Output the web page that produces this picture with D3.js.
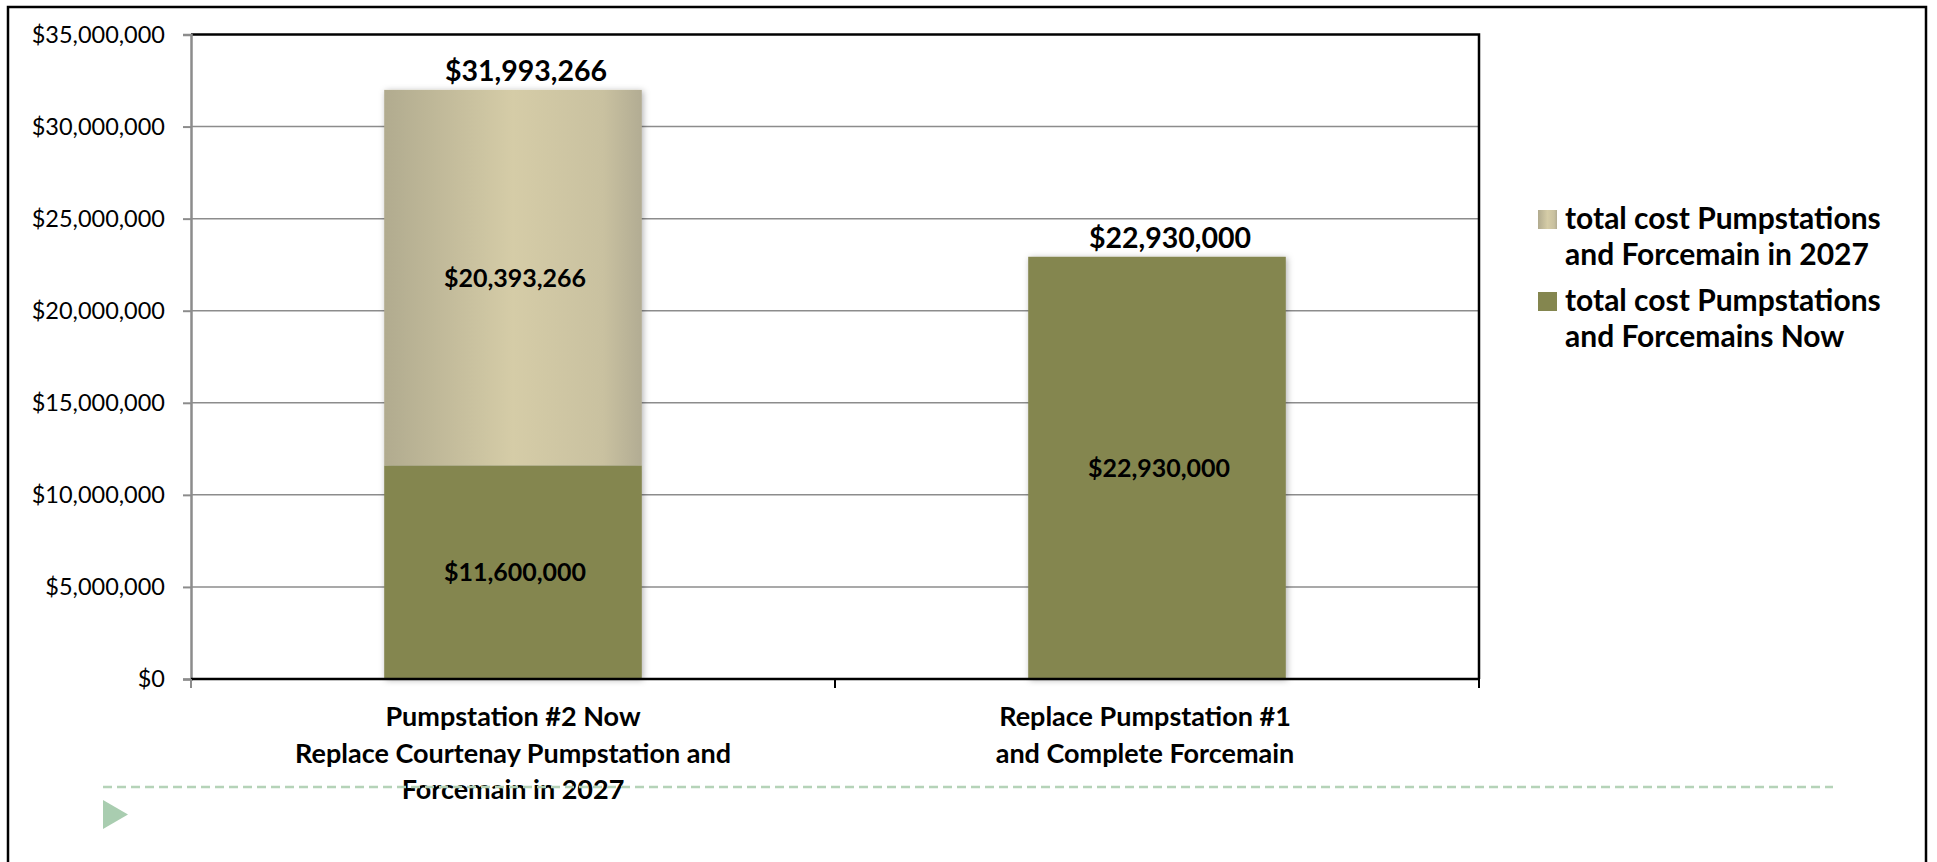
<!DOCTYPE html>
<html>
<head>
<meta charset="utf-8">
<script src="https://cdn.jsdelivr.net/npm/d3@7"></script>
<style>
  html, body { margin: 0; padding: 0; background: #ffffff; }
  svg { display: block; }
  text { font-family: Lato, "Open Sans", sans-serif; }
</style>
</head>
<body>
<svg id="chart" width="1937" height="862"></svg>
<script>
// ---- data ----
const categories = ["cat1", "cat2"];
const categoryLines = [
  ["Pumpstation #2 Now", "Replace Courtenay Pumpstation and", "Forcemain in 2027"],
  ["Replace Pumpstation #1", "and Complete Forcemain"]
];
const seriesNames = [
  ["total cost Pumpstations", "and Forcemain in 2027"],
  ["total cost Pumpstations", "and Forcemains Now"]
];
const nowValues = [11600000, 22930000];
const laterValues = [20393266, 0];
const yTickValues = [0, 5000000, 10000000, 15000000, 20000000, 25000000, 30000000, 35000000];

// ---- layout ----
const plot = { left: 191, right: 1479, top: 34.5, bottom: 679 };
const svg = d3.select("#chart");
const fmt = v => "$" + d3.format(",")(v);

const defs = svg.append("defs");
const grad = defs.append("linearGradient").attr("id", "tanGrad")
  .attr("x1", "0%").attr("x2", "100%").attr("y1", "0%").attr("y2", "0%");
grad.append("stop").attr("offset", "0%").attr("stop-color", "#b1ab8f");
grad.append("stop").attr("offset", "50%").attr("stop-color", "#d5cca7");
grad.append("stop").attr("offset", "85%").attr("stop-color", "#c9c1a0");
grad.append("stop").attr("offset", "100%").attr("stop-color", "#b2ac93");
const f = defs.append("filter").attr("id", "shadow")
  .attr("x", "-10%").attr("y", "-10%").attr("width", "120%").attr("height", "120%");
f.append("feDropShadow").attr("dx", 1.5).attr("dy", 1).attr("stdDeviation", 3)
  .attr("flood-color", "#000").attr("flood-opacity", 0.3);

// outer frame
svg.append("rect").attr("x", 8).attr("y", 7).attr("width", 1918).attr("height", 880)
  .attr("fill", "none").attr("stroke", "#000").attr("stroke-width", 2.5);

const x = d3.scaleBand().domain(categories).range([plot.left, plot.right])
  .paddingInner(0.6).paddingOuter(0.3);
const xCat = d3.scaleBand().domain(categories).range([plot.left, plot.right]);
const y = d3.scaleLinear().domain([0, 35000000]).range([plot.bottom, plot.top]);

// gridlines
svg.append("g").selectAll("line").data(yTickValues.filter(v => v > 0 && v < 35000000)).join("line")
  .attr("x1", plot.left).attr("x2", plot.right)
  .attr("y1", d => y(d)).attr("y2", d => y(d))
  .attr("stroke", "#8c8c8c").attr("stroke-width", 1.5);

// plot border (top + right)
svg.append("path")
  .attr("d", `M${plot.left},${plot.top}H${plot.right}V${plot.bottom}`)
  .attr("fill", "none").attr("stroke", "#000").attr("stroke-width", 2.5);

// bars
const bars = svg.append("g").attr("filter", "url(#shadow)");
categories.forEach((c, i) => {
  bars.append("rect").attr("x", x(c)).attr("width", x.bandwidth())
    .attr("y", y(nowValues[i])).attr("height", y(0) - y(nowValues[i]))
    .attr("fill", "#84864f");
  if (laterValues[i] > 0) {
    bars.append("rect").attr("x", x(c)).attr("width", x.bandwidth())
      .attr("y", y(nowValues[i] + laterValues[i]))
      .attr("height", y(nowValues[i]) - y(nowValues[i] + laterValues[i]))
      .attr("fill", "url(#tanGrad)");
  }
});

// y axis
const yAxis = svg.append("g").attr("transform", `translate(${plot.left},0)`)
  .call(d3.axisLeft(y).tickValues(yTickValues).tickFormat(fmt).tickSize(8).tickPadding(18));
yAxis.select(".domain").attr("stroke", "#8c8c8c").attr("stroke-width", 2.5);
yAxis.selectAll(".tick line").attr("stroke", "#8c8c8c").attr("stroke-width", 2);
yAxis.selectAll(".tick text").attr("font-size", 23.5).attr("fill", "#000")
  .attr("font-family", "Lato, sans-serif");

// x axis
const xAxisG = svg.append("g");
xAxisG.append("line").attr("x1", plot.left).attr("x2", plot.right + 1)
  .attr("y1", plot.bottom).attr("y2", plot.bottom).attr("stroke", "#000").attr("stroke-width", 2.5);
const tickXs = [plot.left].concat(categories.map(c => xCat(c) + xCat.bandwidth()));
xAxisG.selectAll("line.tk").data(tickXs).join("line").attr("class", "tk")
  .attr("x1", d => d).attr("x2", d => d).attr("y1", plot.bottom).attr("y2", plot.bottom + 9)
  .attr("stroke", (d, i) => i === 0 ? "#8c8c8c" : "#000").attr("stroke-width", 2);

// category labels
const catBase = [726, 762.5, 799];
categories.forEach((c, i) => {
  const t = svg.append("text").attr("text-anchor", "middle")
    .attr("font-weight", "bold").attr("font-size", 27).attr("fill", "#000");
  categoryLines[i].forEach((line, j) => {
    t.append("tspan").attr("x", xCat(c) + xCat.bandwidth() / 2 - (i === 1 ? 12 : 0))
      .attr("y", catBase[j]).text(line);
  });
});

// value labels
const totalLabelDx = 13;
categories.forEach((c, i) => {
  const cx = x(c) + x.bandwidth() / 2;
  const total = nowValues[i] + laterValues[i];
  svg.append("text").attr("x", cx + totalLabelDx).attr("y", y(total) - 9)
    .attr("text-anchor", "middle").attr("font-weight", "bold").attr("font-size", 28.5)
    .attr("fill", "#000").text(fmt(total));
  svg.append("text").attr("x", cx + 2).attr("y", (y(0) + y(nowValues[i])) / 2)
    .attr("dy", "0.36em")
    .attr("text-anchor", "middle").attr("font-weight", "bold").attr("font-size", 25)
    .attr("fill", "#000").text(fmt(nowValues[i]));
  if (laterValues[i] > 0) {
    svg.append("text").attr("x", cx + 2)
      .attr("y", (y(nowValues[i]) + y(total)) / 2).attr("dy", "0.36em")
      .attr("text-anchor", "middle").attr("font-weight", "bold").attr("font-size", 25)
      .attr("fill", "#000").text(fmt(laterValues[i]));
  }
});

// legend
const legendItems = [
  { lines: seriesNames[0], fill: "url(#tanGrad)", base: 229 },
  { lines: seriesNames[1], fill: "#84864f", base: 311 }
];
legendItems.forEach(it => {
  svg.append("rect").attr("x", 1538).attr("y", it.base - 19).attr("width", 19).attr("height", 19)
    .attr("fill", it.fill);
  const t = svg.append("text").attr("font-weight", "bold").attr("font-size", 30).attr("fill", "#000");
  it.lines.forEach((line, j) => {
    t.append("tspan").attr("x", 1565).attr("y", it.base + j * 36).text(line);
  });
});

// decorative dashed line and triangle
svg.append("line").attr("x1", 103).attr("x2", 1833).attr("y1", 787).attr("y2", 787)
  .attr("stroke", "#b5d3b8").attr("stroke-width", 2.5).attr("stroke-dasharray", "9,5");
svg.append("path").attr("d", "M103,800L103,829L128,814.5Z").attr("fill", "#a9cdb0");
</script>
</body>
</html>
